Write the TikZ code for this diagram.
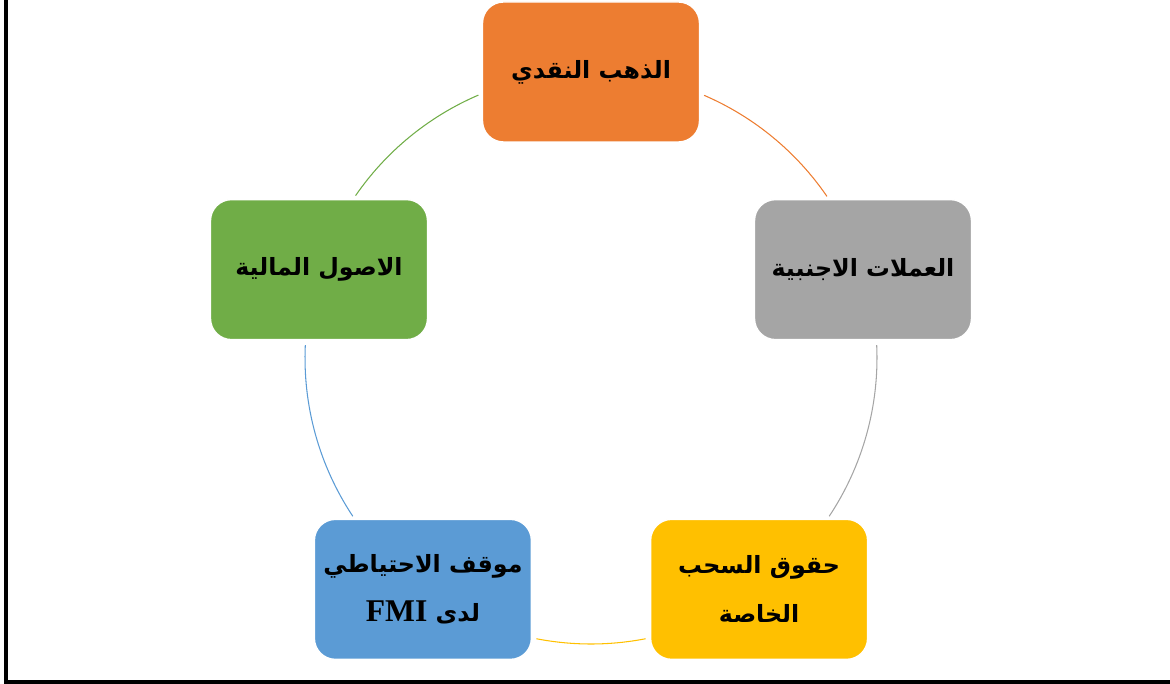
\documentclass[tikz,border=0pt]{standalone}
\usepackage{fontspec}
\usepackage{tikz}
\TeXXeTstate=1
\newfontfamily\arabicfont[Script=Arabic]{DejaVu Sans}
\newfontfamily\latinfont{Liberation Serif}
\definecolor{accOrange}{HTML}{ED7D31}
\definecolor{accGray}{HTML}{A5A5A5}
\definecolor{accYellow}{HTML}{FFC000}
\definecolor{accBlue}{HTML}{5B9BD5}
\definecolor{accGreen}{HTML}{70AD47}
\newcommand{\ar}[1]{\beginR #1\endR}
\def\cycR{5.72}
\tikzset{
  cyclebox/.style={draw=white, line width=0.8pt, rounded corners=0.42cm,
    minimum width=4.34cm, minimum height=2.8cm, align=center,
    font=\arabicfont\bfseries\fontsize{13.5}{28}\selectfont},
  cyclearc/.style={line width=0.6pt}
}

\begin{document}
\begin{tikzpicture}
  \useasboundingbox (0,0) rectangle (23.4,13.68);
  % frame
  \draw[line width=1.8pt] (0.12,13.68) -- (0.12,0.04) -- (23.4,0.04);
  \coordinate (ctr) at (11.82,6.52);

  % boxes round the cycle
  \node[cyclebox, fill=accOrange] (gold) at ([shift={(90:\cycR)}]ctr)
    {\ar{الذهب النقدي}};
  \node[cyclebox, fill=accGray] (fx) at ([shift={(18:\cycR)}]ctr)
    {\ar{العملات الاجنبية}};
  \node[cyclebox, fill=accYellow] (sdr) at ([shift={(-54:\cycR)}]ctr)
    {\ar{حقوق السحب}\\ \ar{الخاصة}};
  \node[cyclebox, fill=accBlue] (imf) at ([shift={(-126:\cycR)}]ctr)
    {\ar{موقف الاحتياطي}\\
     \ar{لدى \beginL{\latinfont\bfseries\fontsize{18}{28}\selectfont FMI}\endL}};
  \node[cyclebox, fill=accGreen] (assets) at ([shift={(162:\cycR)}]ctr)
    {\ar{الاصول المالية}};

  % arcs between the boxes
  \draw[cyclearc, accOrange] ([shift={(66.7:\cycR)}]ctr)
    arc[start angle=66.7, end angle=34.4, radius=\cycR];
  \draw[cyclearc, accGray] ([shift={(2.6:\cycR)}]ctr)
    arc[start angle=2.6, end angle=-33.6, radius=\cycR];
  \draw[cyclearc, accYellow] ([shift={(-79:\cycR)}]ctr)
    arc[start angle=-79, end angle=-101, radius=\cycR];
  \draw[cyclearc, accBlue] ([shift={(-146.4:\cycR)}]ctr)
    arc[start angle=-146.4, end angle=-182.6, radius=\cycR];
  \draw[cyclearc, accGreen] ([shift={(145.4:\cycR)}]ctr)
    arc[start angle=145.4, end angle=113.2, radius=\cycR];
\end{tikzpicture}
\end{document}
